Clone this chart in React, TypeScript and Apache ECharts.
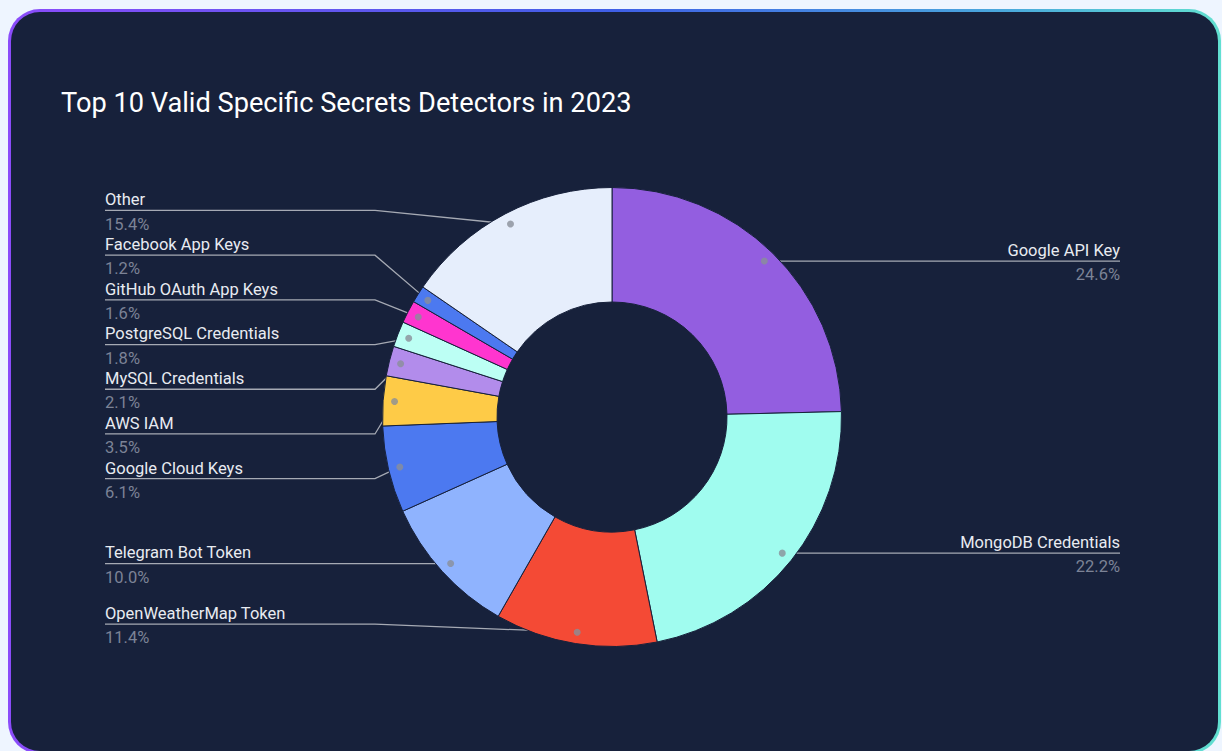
import React, { useEffect, useRef } from "react";
import * as echarts from "echarts";

const titleText = "Top 10 Valid Specific Secrets Detectors in 2023";
const categories = [
  "Google API Key",
  "MongoDB Credentials",
  "OpenWeatherMap Token",
  "Telegram Bot Token",
  "Google Cloud Keys",
  "AWS IAM",
  "MySQL Credentials",
  "PostgreSQL Credentials",
  "GitHub OAuth App Keys",
  "Facebook App Keys",
  "Other",
];
const shares = [24.6, 22.2, 11.4, 10.0, 6.1, 3.5, 2.1, 1.8, 1.6, 1.2, 15.4];
const sliceColors = [
  "#935ee0",
  "#a0fcef",
  "#f44a35",
  "#8fb3fe",
  "#4c79f0",
  "#fecb47",
  "#b28ceb",
  "#bcfff4",
  "#ff35cf",
  "#4c79f0",
  "#e6eefc",
];

// layout constants
const CX = 612;
const CY = 417;
const R_OUT = 229.5;
const R_IN = 115;
const R_DOT = 218;
const LABEL_H = 44.7;
const EDGE_L = 105;
const EDGE_R = 1120;
const KNEE_OFF = 237;

function computeLayout() {
  const total = shares.reduce((a, b) => a + b, 0);
  const mids: number[] = [];
  let acc = 0;
  shares.forEach((v) => {
    mids.push(acc + v / 2);
    acc += v;
  });
  const dots = mids.map((m) => {
    const t = (m / total) * Math.PI * 2;
    return [CX + R_DOT * Math.sin(t), CY - R_DOT * Math.cos(t)];
  });
  const isLeft = dots.map((d) => d[0] < CX);
  const lineY: number[] = new Array(shares.length).fill(0);
  const minY = CY - R_OUT + LABEL_H / 2;
  const maxY = CY + R_OUT - LABEL_H / 2;
  const stack = (idxs: number[]) => {
    const items = idxs.slice().sort((a, b) => dots[a][1] - dots[b][1]);
    type C = { idx: number[]; sum: number; start: number };
    const place = (c: C) => {
      const n = c.idx.length;
      let s = c.sum / n - ((n - 1) * LABEL_H) / 2;
      s = Math.max(minY, Math.min(s, maxY - (n - 1) * LABEL_H));
      c.start = s;
    };
    const clusters: C[] = [];
    for (const i of items) {
      const c: C = { idx: [i], sum: dots[i][1], start: 0 };
      place(c);
      clusters.push(c);
      while (clusters.length > 1) {
        const b = clusters[clusters.length - 1];
        const a = clusters[clusters.length - 2];
        if (a.start + a.idx.length * LABEL_H > b.start + 1e-6) {
          a.idx.push(...b.idx);
          a.sum += b.sum;
          place(a);
          clusters.pop();
        } else break;
      }
    }
    clusters.forEach((c) => c.idx.forEach((i, k) => (lineY[i] = c.start + k * LABEL_H)));
  };
  stack(shares.map((_, i) => i).filter((i) => isLeft[i]));
  stack(shares.map((_, i) => i).filter((i) => !isLeft[i]));
  return { total, mids, dots, isLeft, lineY };
}

export default function App() {
  const ref = useRef<HTMLDivElement>(null);
  useEffect(() => {
    if (!ref.current) return;
    const chart = echarts.init(ref.current, undefined, { renderer: "svg" });
    const L = computeLayout();
    chart.setOption({
      animation: false,
      title: {
        text: titleText,
        left: 56,
        top: 84,
        textStyle: { color: "#ffffff", fontSize: 27.2, fontWeight: "normal", fontFamily: "Roboto" },
      },
      polar: { center: [CX, CY], radius: R_OUT },
      angleAxis: { type: "value", min: 0, max: L.total, startAngle: 90, clockwise: true, show: false },
      radiusAxis: { type: "value", min: 0, max: R_OUT, show: false },
      series: [
        {
          type: "pie",
          center: [CX, CY],
          radius: [R_IN, R_OUT],
          startAngle: 90,
          clockwise: true,
          data: categories.map((name, i) => ({
            name,
            value: shares[i],
            itemStyle: { color: sliceColors[i] },
          })),
          itemStyle: { borderColor: "#17213b", borderWidth: 1 },
          label: {
            show: true,
            position: "outside",
            alignTo: "edge",
            edgeDistance: EDGE_L,
            formatter: (p: any) => `{n|${p.name}}\n{p|${Number(p.value).toFixed(1)}%}`,
            rich: {
              n: { fontSize: 16.5, lineHeight: 24.3, color: "#e8ebf1", fontFamily: "Roboto" },
              p: { fontSize: 16.5, lineHeight: 24.3, color: "#7c8396", fontFamily: "Roboto" },
            },
          },
          labelLine: {
            show: true,
            showAbove: true,
            length: 8,
            length2: 8,
            lineStyle: { color: "#a6aab4", width: 1.3 },
          },
          labelLayout: (params: any) => {
            const i = params.dataIndex;
            const left = L.isLeft[i];
            const y = L.lineY[i];
            const edgeX = left ? EDGE_L : EDGE_R;
            const kneeX = left ? CX - KNEE_OFF : CX + KNEE_OFF;
            return {
              x: edgeX,
              y: y + 1.5,
              align: left ? "left" : "right",
              verticalAlign: "middle",
              labelLinePoints: [L.dots[i], [kneeX, y], [edgeX, y]],
            };
          },
        },
        {
          type: "scatter",
          coordinateSystem: "polar",
          data: L.mids.map((m) => [R_DOT, m]),
          symbolSize: 7,
          itemStyle: { color: "#8a8e99" },
          z: 10,
          silent: true,
        },
      ],
    });
    return () => chart.dispose();
  }, []);

  return (
    <div style={{ position: "fixed", left: 0, top: 0, width: 1222, height: 751, background: "#eef5ff", overflow: "hidden" }}>
      <div
        style={{
          position: "absolute",
          left: 8,
          top: 9,
          width: 1213,
          height: 745,
          borderRadius: 32,
          padding: 3,
          boxSizing: "border-box",
          background: "linear-gradient(90deg, #8b4cfa 0%, #3f5fe6 50%, #4aa8dc 82%, #62e0d0 100%)",
        }}
      >
        <div style={{ width: "100%", height: "100%", borderRadius: 29, background: "#17213b" }} />
      </div>
      <div ref={ref} style={{ position: "absolute", left: 0, top: 0, width: 1222, height: 751 }} />
    </div>
  );
}
